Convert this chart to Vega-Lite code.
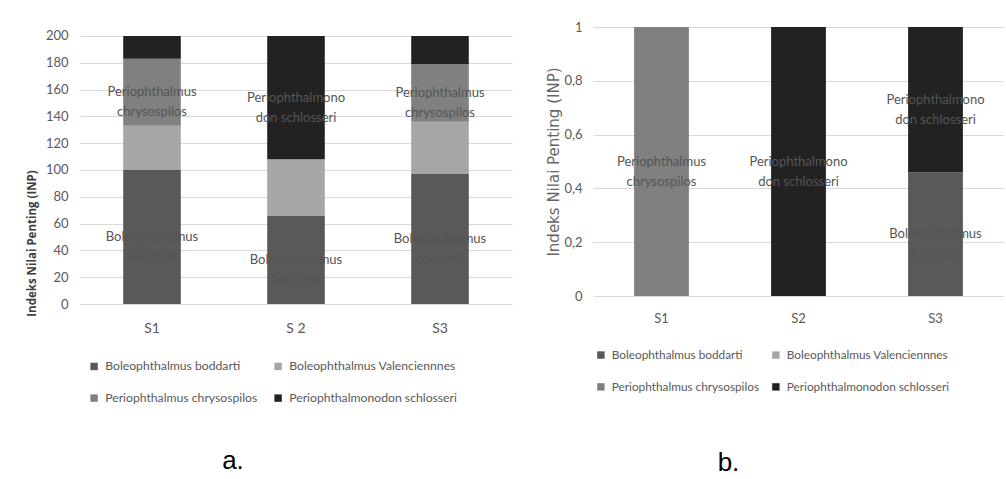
{
  "$schema": "https://vega.github.io/schema/vega-lite/v6.json",
  "background": "white",
  "padding": {"left": 26, "top": 21, "right": 0, "bottom": 0},
  "spacing": 34,
  "resolve": {"scale": {"color": "independent"}, "legend": {"color": "independent"}},
  "config": {
    "view": {"stroke": null},
    "font": "Lato",
    "axis": {
      "labelFont": "Lato",
      "labelColor": "#595959",
      "labelFontSize": 13,
      "labelOverlap": false,
      "gridColor": "#d9d9d9",
      "domain": false,
      "ticks": false
    },
    "legend": {
      "orient": "bottom",
      "columns": 2,
      "title": null,
      "labelFont": "Lato",
      "labelFontSize": 12.2,
      "labelColor": "#595959",
      "labelLimit": 400,
      "symbolType": "square",
      "symbolSize": 55,
      "symbolStrokeWidth": 0,
      "columnPadding": 6,
      "rowPadding": 19,
      "labelOffset": 5
    },
    "title": {
      "font": "Liberation Sans",
      "fontSize": 26,
      "fontWeight": "normal",
      "color": "#000000",
      "orient": "bottom",
      "frame": "group"
    }
  },
  "hconcat": [
    {
      "width": 432,
      "height": 277,
      "title": {"text": "a.", "dx": -63, "offset": 43},
      "data": {
        "values": [
          {"site": "S1", "species": "Boleophthalmus boddarti", "inp": 100, "label": "Boleophthalmus\nboddarti"},
          {"site": "S1", "species": "Boleophthalmus Valenciennnes", "inp": 33, "label": ""},
          {"site": "S1", "species": "Periophthalmus chrysospilos", "inp": 50, "label": "Periophthalmus\nchrysospilos"},
          {"site": "S1", "species": "Periophthalmonodon schlosseri", "inp": 17, "label": ""},
          {"site": "S 2", "species": "Boleophthalmus boddarti", "inp": 66, "label": "Boleophthalmus\nboddarti"},
          {"site": "S 2", "species": "Boleophthalmus Valenciennnes", "inp": 42, "label": ""},
          {"site": "S 2", "species": "Periophthalmus chrysospilos", "inp": 0, "label": ""},
          {"site": "S 2", "species": "Periophthalmonodon schlosseri", "inp": 92, "label": "Periophthalmono\ndon schlosseri"},
          {"site": "S3", "species": "Boleophthalmus boddarti", "inp": 97, "label": "Boleophthalmus\nboddarti"},
          {"site": "S3", "species": "Boleophthalmus Valenciennnes", "inp": 39, "label": ""},
          {"site": "S3", "species": "Periophthalmus chrysospilos", "inp": 43, "label": "Periophthalmus\nchrysospilos"},
          {"site": "S3", "species": "Periophthalmonodon schlosseri", "inp": 21, "label": ""}
        ]
      },
      "transform": [
        {"calculate": "indexof(['Boleophthalmus boddarti','Boleophthalmus Valenciennnes','Periophthalmus chrysospilos','Periophthalmonodon schlosseri'], datum.species)", "as": "k"},
        {"stack": "inp", "groupby": ["site"], "sort": [{"field": "k", "order": "ascending"}], "as": ["y0", "y1"]},
        {"calculate": "(datum.y0 + datum.y1) / 2", "as": "mid"}
      ],
      "encoding": {
        "x": {
          "field": "site",
          "type": "nominal",
          "sort": null,
          "scale": {"paddingInner": 0.6, "paddingOuter": 0.3},
          "axis": {"title": null, "labelAngle": 0, "labelPadding": 17, "labelFontSize": 14, "grid": false}
        }
      },
      "layer": [
        {
          "mark": {"type": "bar"},
          "encoding": {
            "y": {
              "field": "y1",
              "type": "quantitative",
              "scale": {"domain": [0, 206.7], "nice": false, "zero": true},
              "axis": {
                "title": "Indeks Nilai Penting (INP)",
                "values": [0, 20, 40, 60, 80, 100, 120, 140, 160, 180, 200],
                "labelOverlap": false,
                "titleFont": "Open Sans",
                "titleFontWeight": "bold",
                "titleFontSize": 11.5,
                "titleColor": "#404040",
                "titleY": 216,
                "labelPadding": 12,
                "titlePadding": 8
              }
            },
            "y2": {"field": "y0"},
            "color": {
              "field": "species",
              "type": "nominal",
              "scale": {
                "domain": ["Boleophthalmus boddarti", "Boleophthalmus Valenciennnes", "Periophthalmus chrysospilos", "Periophthalmonodon schlosseri"],
                "range": ["#595959", "#a6a6a6", "#808080", "#222222"]
              },
              "legend": {"offset": 25, "padding": 0, "symbolOffset": 8, "columnPadding": 6}
            }
          }
        },
        {
          "transform": [{"filter": "datum.label != ''"}],
          "mark": {"type": "text", "lineBreak": "\n", "font": "Lato", "fontSize": 13, "lineHeight": 20, "color": "#555555", "baseline": "middle"},
          "encoding": {
            "y": {
              "field": "mid",
              "type": "quantitative",
              "axis": {
                "title": "Indeks Nilai Penting (INP)",
                "values": [0, 20, 40, 60, 80, 100, 120, 140, 160, 180, 200],
                "labelOverlap": false,
                "titleFont": "Open Sans",
                "titleFontWeight": "bold",
                "titleFontSize": 11.5,
                "titleColor": "#404040",
                "titleY": 216,
                "labelPadding": 12,
                "titlePadding": 8
              }
            },
            "text": {"field": "label"}
          }
        }
      ]
    },
    {
      "width": 411,
      "height": 269,
      "title": {"text": "b.", "dx": -70, "offset": 56},
      "data": {
        "values": [
          {"site": "S1", "species": "Boleophthalmus boddarti", "inp": 0, "label": ""},
          {"site": "S1", "species": "Boleophthalmus Valenciennnes", "inp": 0, "label": ""},
          {"site": "S1", "species": "Periophthalmus chrysospilos", "inp": 1, "label": "Periophthalmus\nchrysospilos"},
          {"site": "S1", "species": "Periophthalmonodon schlosseri", "inp": 0, "label": ""},
          {"site": "S2", "species": "Boleophthalmus boddarti", "inp": 0, "label": ""},
          {"site": "S2", "species": "Boleophthalmus Valenciennnes", "inp": 0, "label": ""},
          {"site": "S2", "species": "Periophthalmus chrysospilos", "inp": 0, "label": ""},
          {"site": "S2", "species": "Periophthalmonodon schlosseri", "inp": 1, "label": "Periophthalmono\ndon schlosseri"},
          {"site": "S3", "species": "Boleophthalmus boddarti", "inp": 0.46, "label": "Boleophthalmus\nboddarti"},
          {"site": "S3", "species": "Boleophthalmus Valenciennnes", "inp": 0, "label": ""},
          {"site": "S3", "species": "Periophthalmus chrysospilos", "inp": 0, "label": ""},
          {"site": "S3", "species": "Periophthalmonodon schlosseri", "inp": 0.54, "label": "Periophthalmono\ndon schlosseri"}
        ]
      },
      "transform": [
        {"calculate": "indexof(['Boleophthalmus boddarti','Boleophthalmus Valenciennnes','Periophthalmus chrysospilos','Periophthalmonodon schlosseri'], datum.species)", "as": "k"},
        {"stack": "inp", "groupby": ["site"], "sort": [{"field": "k", "order": "ascending"}], "as": ["y0", "y1"]},
        {"calculate": "(datum.y0 + datum.y1) / 2", "as": "mid"}
      ],
      "encoding": {
        "x": {
          "field": "site",
          "type": "nominal",
          "sort": null,
          "scale": {"paddingInner": 0.6, "paddingOuter": 0.3},
          "axis": {"title": null, "labelAngle": 0, "labelPadding": 16, "grid": false}
        }
      },
      "layer": [
        {
          "mark": {"type": "bar"},
          "encoding": {
            "y": {
              "field": "y1",
              "type": "quantitative",
              "scale": {"domain": [0, 1], "nice": false},
              "axis": {
                "title": "Indeks Nilai Penting (INP)",
                "values": [0, 0.2, 0.4, 0.6, 0.8, 1],
                "format": "~g",
                "labelExpr": "replace(datum.label, '.', ',')",
                "titleFont": "DejaVu Sans",
                "titleFontWeight": "normal",
                "titleFontSize": 15,
                "titleColor": "#666666",
                "labelPadding": 11,
                "titlePadding": 2
              }
            },
            "y2": {"field": "y0"},
            "color": {
              "field": "species",
              "type": "nominal",
              "scale": {
                "domain": ["Boleophthalmus boddarti", "Boleophthalmus Valenciennnes", "Periophthalmus chrysospilos", "Periophthalmonodon schlosseri"],
                "range": ["#595959", "#a6a6a6", "#808080", "#222222"]
              },
              "legend": {"offset": 24, "padding": 0, "labelFontSize": 11.8, "symbolOffset": 2, "columnPadding": 8}
            }
          }
        },
        {
          "transform": [{"filter": "datum.label != ''"}],
          "mark": {"type": "text", "lineBreak": "\n", "font": "Lato", "fontSize": 13, "lineHeight": 20, "color": "#555555", "baseline": "middle"},
          "encoding": {
            "y": {
              "field": "mid",
              "type": "quantitative",
              "axis": {
                "title": "Indeks Nilai Penting (INP)",
                "values": [0, 0.2, 0.4, 0.6, 0.8, 1],
                "format": "~g",
                "labelExpr": "replace(datum.label, '.', ',')",
                "titleFont": "DejaVu Sans",
                "titleFontWeight": "normal",
                "titleFontSize": 15,
                "titleColor": "#666666",
                "labelPadding": 11,
                "titlePadding": 2
              }
            },
            "text": {"field": "label"}
          }
        }
      ]
    }
  ]
}
